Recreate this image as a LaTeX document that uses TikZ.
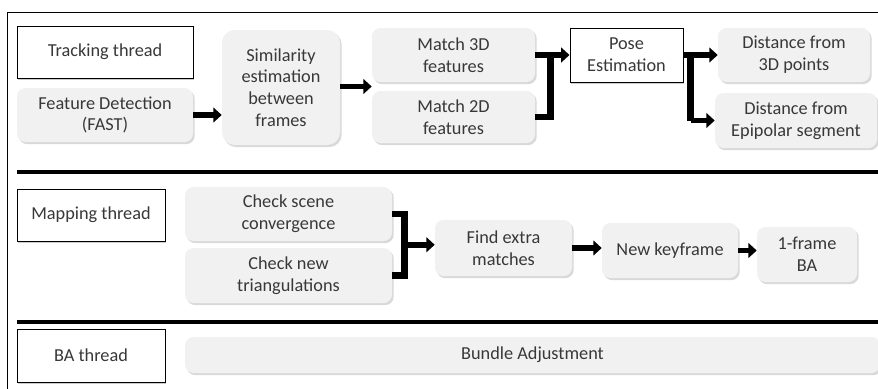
\documentclass[tikz,border=0pt]{standalone}
\usepackage{fontspec}
\setmainfont{Carlito}
\usetikzlibrary{calc,arrows.meta,shadows}

\definecolor{boxgray}{HTML}{F1F1F1}
\definecolor{txtgray}{HTML}{383838}

\begin{document}
\begin{tikzpicture}[x=0.025cm, y=-0.025cm,
    every node/.style={text=txtgray, align=center, font=\fontsize{13}{15.5}\selectfont, inner sep=1pt},
    sz/.style 2 args={minimum width=#1*0.025cm, minimum height=#2*0.025cm},
    label box/.style={rectangle, draw=black, line width=0.7pt, fill=white, drop shadow={shadow xshift=1pt, shadow yshift=-1.2pt, opacity=0.4, fill=gray}},
    task/.style={rectangle, rounded corners=6pt, fill=boxgray, drop shadow={shadow xshift=1.2pt, shadow yshift=-1.5pt, opacity=0.3, fill=gray}},
    arr/.style={line width=4.2pt, -{Triangle[length=6pt, width=10.5pt]}},
    bar/.style={line width=4.8pt},
    sep/.style={line width=3.5pt}]

    \useasboundingbox (0,0) rectangle (878,388);
    \draw[line width=0.7pt] (7,12) rectangle (890,400);

    % Tracking thread
    \node[label box, sz={176}{52}] (track) at (105,52) {Tracking thread};
    \node[task, sz={176}{54}] (feat) at (105,115) {Feature Detection\\(FAST)};
    \node[task, rounded corners=9pt, sz={118}{115}] (simil) at (281,87.5) {Similarity\\estimation\\between\\frames};
    \node[task, sz={163}{54}] (mthree) at (453.5,55) {Match 3D\\features};
    \node[task, sz={163}{52}] (mtwo) at (453.5,117) {Match 2D\\features};
    \node[label box, sz={113}{54}] (pose) at (626.5,55) {Pose\\Estimation};
    \node[task, sz={152}{54}] (dthree) at (794,55) {Distance from\\3D points};
    \node[task, sz={162}{55}] (depi) at (796,120.5) {Distance from\\Epipolar segment};

    \draw[sep] (17,172) -- (890,172);

    % Mapping thread
    \node[label box, sz={148}{52}] (map) at (91,215) {Mapping thread};
    \node[task, sz={207}{54}] (scene) at (288.5,214) {Check scene\\convergence};
    \node[task, sz={207}{55}] (tri) at (288.5,275.5) {Check new\\triangulations};
    \node[task, sz={137}{56}] (extra) at (503.5,248) {Find extra\\matches};
    \node[task, sz={136}{55}] (newkf) at (670,250.5) {New keyframe};
    \node[task, sz={100}{55}] (oneba) at (807,254.5) {1-frame\\BA};

    \draw[sep] (17,322) -- (890,322);

    % BA thread
    \node[label box, sz={148}{53}] (bath) at (91,355.5) {BA thread};
    \node[task, sz={695}{36}] (bundle) at (532.5,355) {Bundle Adjustment};

    % Edges
    \draw[arr] (feat.east) -- (feat.east -| simil.west);
    \coordinate (mgap) at ($(mthree.south west)!0.5!(mtwo.north west)$);
    \draw[arr] (simil.east |- mgap) -- (mgap);
    \coordinate (bl) at ($(mthree.east)+(15,0)$);
    \draw[bar] (mthree.east) -- (bl) |- (mtwo.east);
    \draw[arr] (bl) -- (pose.west);
    \coordinate (br) at ($(pose.east)+(7,0)$);
    \draw[arr] (pose.east) -- (dthree.west);
    \draw[bar] (br) -- (br |- depi.west);
    \draw[arr] (br |- depi.west) -- (depi.west);

    \coordinate (mb) at ($(scene.east)!0.5!(tri.east)+(12,0)$);
    \draw[bar] (scene.east) -| (mb) |- (tri.east);
    \draw[arr] (mb) -- (mb -| extra.west);
    \draw[arr] (extra.east) -- (extra.east -| newkf.west);
    \draw[arr] (newkf.east) -- (newkf.east -| oneba.west);

\end{tikzpicture}
\end{document}
